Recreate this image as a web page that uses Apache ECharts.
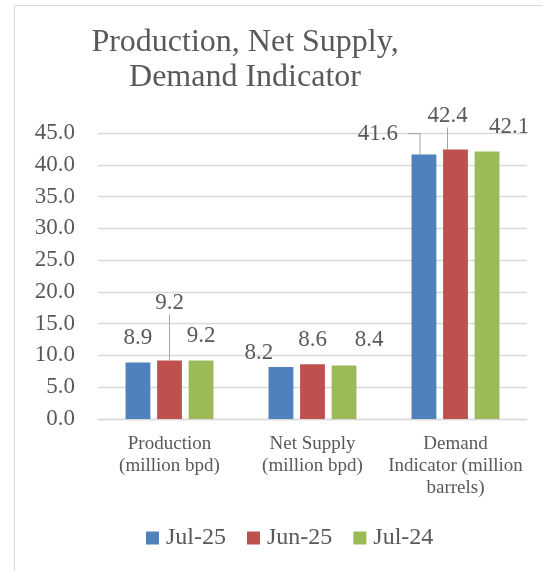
<!DOCTYPE html>
<html>
<head>
<meta charset="utf-8">
<script src="https://cdn.jsdelivr.net/npm/echarts@6/dist/echarts.min.js"></script>
<style>
  html, body { margin: 0; padding: 0; background: #fff; }
  #chart { width: 543px; height: 571px; }
</style>
</head>
<body>
<div id="chart"></div>
<script>
// Categories and series values
const categories = ['Production\n(million bpd)', 'Net Supply\n(million bpd)', 'Demand\nIndicator (million\nbarrels)'];
const seriesNames = ['Jul-25', 'Jun-25', 'Jul-24'];
const jul25 = [8.9, 8.2, 41.6];
const jun25 = [9.2, 8.6, 42.4];
const jul24 = [9.2, 8.4, 42.1];
const yMin = 0;
const yMax = 45;
const yStep = 5;

const colors = ['#4F81BD', '#C0504D', '#9BBB59'];
const font = 'Liberation Serif';
const textColor = '#595959';

// Manual nudges for value labels so neighbours don't collide: [dx, dy]
const labelNudge = [
  [[0, -10], [-22, 0], [-41, -7]],
  [[0, -44], [0, -10], [-8, -20]],
  [[0, -11], [25, -12], [22, -10]]
];
// Labels that get a leader line back to their bar: series -> data index -> length2
const leaderLines = {
  0: { 2: 12 },
  1: { 0: 0, 2: 0 }
};

function buildData(values, s) {
  return values.map((v, i) => {
    const item = { value: v };
    const ll = leaderLines[s] && leaderLines[s][i];
    if (ll !== undefined) {
      item.labelLine = { show: true, length2: ll, lineStyle: { color: '#a6a6a6', width: 1 } };
      if (s === 0) item.label = { padding: [0, 10, 0, 0] };
    }
    return item;
  });
}

const allValues = [jul25, jun25, jul24];

const chart = echarts.init(document.getElementById('chart'), null, { renderer: 'canvas' });

chart.setOption({
  animation: false,
  backgroundColor: '#ffffff',
  color: colors,
  textStyle: { fontFamily: font },
  title: {
    text: 'Production, Net Supply,\nDemand Indicator',
    left: 240,
    textAlign: 'center',
    top: 20,
    textStyle: {
      fontFamily: font,
      fontSize: 32,
      fontWeight: 'normal',
      color: textColor,
      lineHeight: 35
    }
  },
  graphic: [{
    type: 'rect',
    shape: { x: 14.5, y: 5.5, width: 700, height: 700 },
    style: { fill: 'none', stroke: '#d9d9d9', lineWidth: 1 },
    silent: true,
    z: -10
  }],
  legend: {
    data: seriesNames,
    left: 141,
    top: 521,
    itemWidth: 13,
    itemHeight: 13,
    itemGap: 21,
    icon: 'rect',
    textStyle: { fontFamily: font, fontSize: 24, color: textColor, padding: [0, 0, 0, 2] }
  },
  grid: { left: 98, right: 16, top: 133, bottom: 152, containLabel: false },
  xAxis: {
    type: 'category',
    data: categories,
    axisTick: { show: false },
    axisLine: { lineStyle: { color: '#d9d9d9', width: 1.3 } },
    axisLabel: {
      interval: 0,
      margin: 14,
      fontFamily: font,
      fontSize: 19,
      lineHeight: 22,
      color: textColor
    }
  },
  yAxis: {
    type: 'value',
    min: yMin,
    max: yMax,
    interval: yStep,
    axisLine: { show: false },
    axisTick: { show: false },
    splitLine: { lineStyle: { color: '#d9d9d9', width: 1.3 } },
    axisLabel: {
      margin: 23,
      fontFamily: font,
      fontSize: 23,
      color: textColor,
      formatter: v => v.toFixed(1)
    }
  },
  series: allValues.map((vals, s) => ({
    name: seriesNames[s],
    type: 'bar',
    data: buildData(vals, s),
    barCategoryGap: '38.5%',
    barGap: '27%',
    itemStyle: { color: colors[s] },
    label: {
      show: true,
      position: 'top',
      distance: 2,
      fontFamily: font,
      fontSize: 23,
      lineHeight: 24,
      color: textColor,
      formatter: p => p.value.toFixed(1)
    },
    labelLayout: p => {
      const n = labelNudge[p.seriesIndex][p.dataIndex];
      return { dx: n[0], dy: n[1] };
    }
  }))
});
</script>
</body>
</html>
